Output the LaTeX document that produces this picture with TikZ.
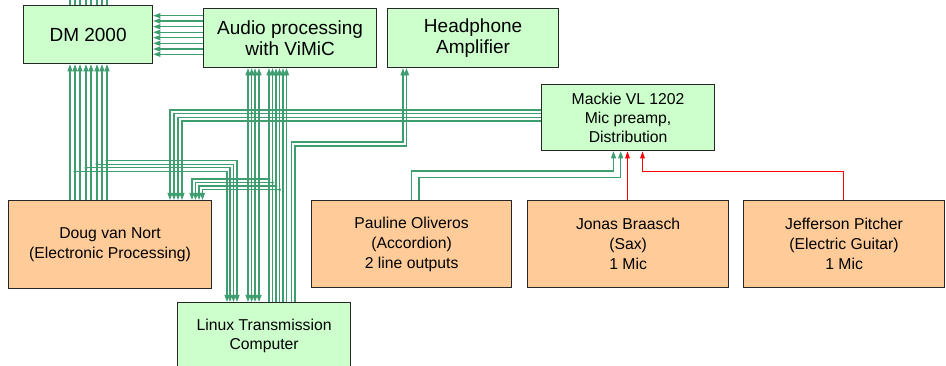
\documentclass[tikz,border=0pt]{standalone}
\usepackage{fontspec}
\setmainfont{Liberation Sans}
\usetikzlibrary{arrows.meta}
\definecolor{wirec}{RGB}{62,158,112}
\definecolor{gfill}{RGB}{204,255,204}
\definecolor{ofill}{RGB}{255,204,153}
\begin{document}
\begin{tikzpicture}[x=0.75pt,y=-0.75pt,
  box/.style={draw=black!85,line width=0.9pt,inner sep=0pt,align=center,anchor=north west},
  gbox/.style={box,fill=gfill,font=\fontsize{14.25}{16.3}\selectfont},
  sgbox/.style={box,fill=gfill,font=\fontsize{11.8}{14.4}\selectfont},
  obox/.style={box,fill=ofill,font=\fontsize{11.8}{15}\selectfont},
  wire/.style={draw=wirec,line width=0.8pt},
  rwire/.style={draw=red,line width=1.1pt},
  tip/.tip={Triangle[length=5.4pt,width=3.8pt]},
  arr/.style={-tip},
  dotc/.style={fill=wirec}
]
\useasboundingbox (0,0) rectangle (946,366);

% boxes
\node[gbox,minimum width=96.75pt,minimum height=43.5pt] (dm) at (23,5) {DM 2000};
\node[gbox,minimum width=129.75pt,minimum height=44.25pt] (vimic) at (203,8) {Audio processing\\with ViMiC};
\node[gbox,minimum width=128.25pt,minimum height=44.25pt] (hp) at (387,8) {Headphone\\Amplifier};
\node[sgbox,minimum width=129.75pt,minimum height=49.5pt] (mackie) at (541,84) {Mackie VL 1202\\Mic preamp,\\Distribution};
\node[obox,minimum width=152.25pt,minimum height=66pt] (doug) at (8,200) {Doug van Nort\\(Electronic Processing)};
\node[obox,minimum width=150pt,minimum height=65.25pt] (pauline) at (311,200) {Pauline Oliveros\\(Accordion)\\2 line outputs};
\node[obox,minimum width=150.75pt,minimum height=65.25pt] (jonas) at (527,200) {Jonas Braasch\\(Sax)\\1 Mic};
\node[obox,minimum width=150.75pt,minimum height=65.25pt] (jeff) at (743,200) {Jefferson Pitcher\\(Electric Guitar)\\1 Mic};
\node[gbox,font=\fontsize{11.8}{14.6}\selectfont,minimum width=129.75pt,minimum height=50pt] (linux) at (177,302) {Linux Transmission\\Computer};

% DM 2000 outputs leaving at top
\foreach \x in {70,75,80,86,91,97,102,107}
  \draw[wire] (\x,0 |- dm.north) -- (\x,0);

% ViMiC -> DM 2000
\foreach \y in {15.7,21,26.7,32.3,37.7,43.3,49,54.3}
  \draw[wire,arr] (vimic.west |- 0,\y) -- (dm.east |- 0,\y);

% Doug -> DM 2000
\foreach \x in {70,75,80,86,91,97,102,107}
  \draw[wire,arr] (\x,0 |- doug.north) -- (\x,0 |- dm.south);

% Doug taps -> Linux
\foreach \a/\y/\b in {107/160.7/237,97/164.2/233.5,86/167.8/230,75/171.7/227}{
  \fill[dotc] (\a,\y) circle (1.3pt);
  \draw[wire,arr] (\a,\y) -| (\b,0 |- linux.north);
}

% Mackie -> Doug
\foreach \y/\b in {110/170,113.3/174,117.3/178,121/182}
  \draw[wire,arr] (mackie.west |- 0,\y) -| (\b,0 |- doug.north);

% Mackie taps -> ViMiC and Linux
\foreach \x/\y in {248/110,251.7/113.3,255/117.3,259/121}{
  \draw[wire,tip-tip] (\x,0 |- vimic.south) -- (\x,0 |- linux.north);
  \fill[dotc] (\x,\y) circle (1.3pt);
}

% Linux -> ViMiC
\foreach \x in {269,272.5,276,279.5,283,286.5}
  \draw[wire,arr] (\x,0 |- linux.north) -- (\x,0 |- vimic.south);

% Linux taps -> Doug
\foreach \a/\y/\b in {269/179/192,272.5/182.5/195.5,276/186/199,279.5/189.7/202.5}{
  \fill[dotc] (\a,\y) circle (1.3pt);
  \draw[wire,arr] (\a,\y) -| (\b,0 |- doug.north);
}

% Linux -> Headphone amplifier
\foreach \a/\y/\b in {291.5/142/403,295/146/406.5}
  \draw[wire,arr] (\a,0 |- linux.north) |- (\b,\y) -- (\b,0 |- hp.south);

% Pauline -> Mackie
\foreach \a/\y/\b in {411.7/171/613.5,419/177.7/620.7}
  \draw[wire,arr] (\a,0 |- pauline.north) |- (\b,\y) -- (\b,0 |- mackie.south);

% Jonas -> Mackie
\draw[rwire,-{Triangle[length=5.4pt,width=3.4pt]}] (627.5,0 |- jonas.north) -- (627.5,0 |- mackie.south);
% Jefferson -> Mackie
\draw[rwire,-{Triangle[length=5.4pt,width=3.4pt]}] (843.5,0 |- jeff.north) |- (642.5,171.5) -- (642.5,0 |- mackie.south);

\end{tikzpicture}
\end{document}
